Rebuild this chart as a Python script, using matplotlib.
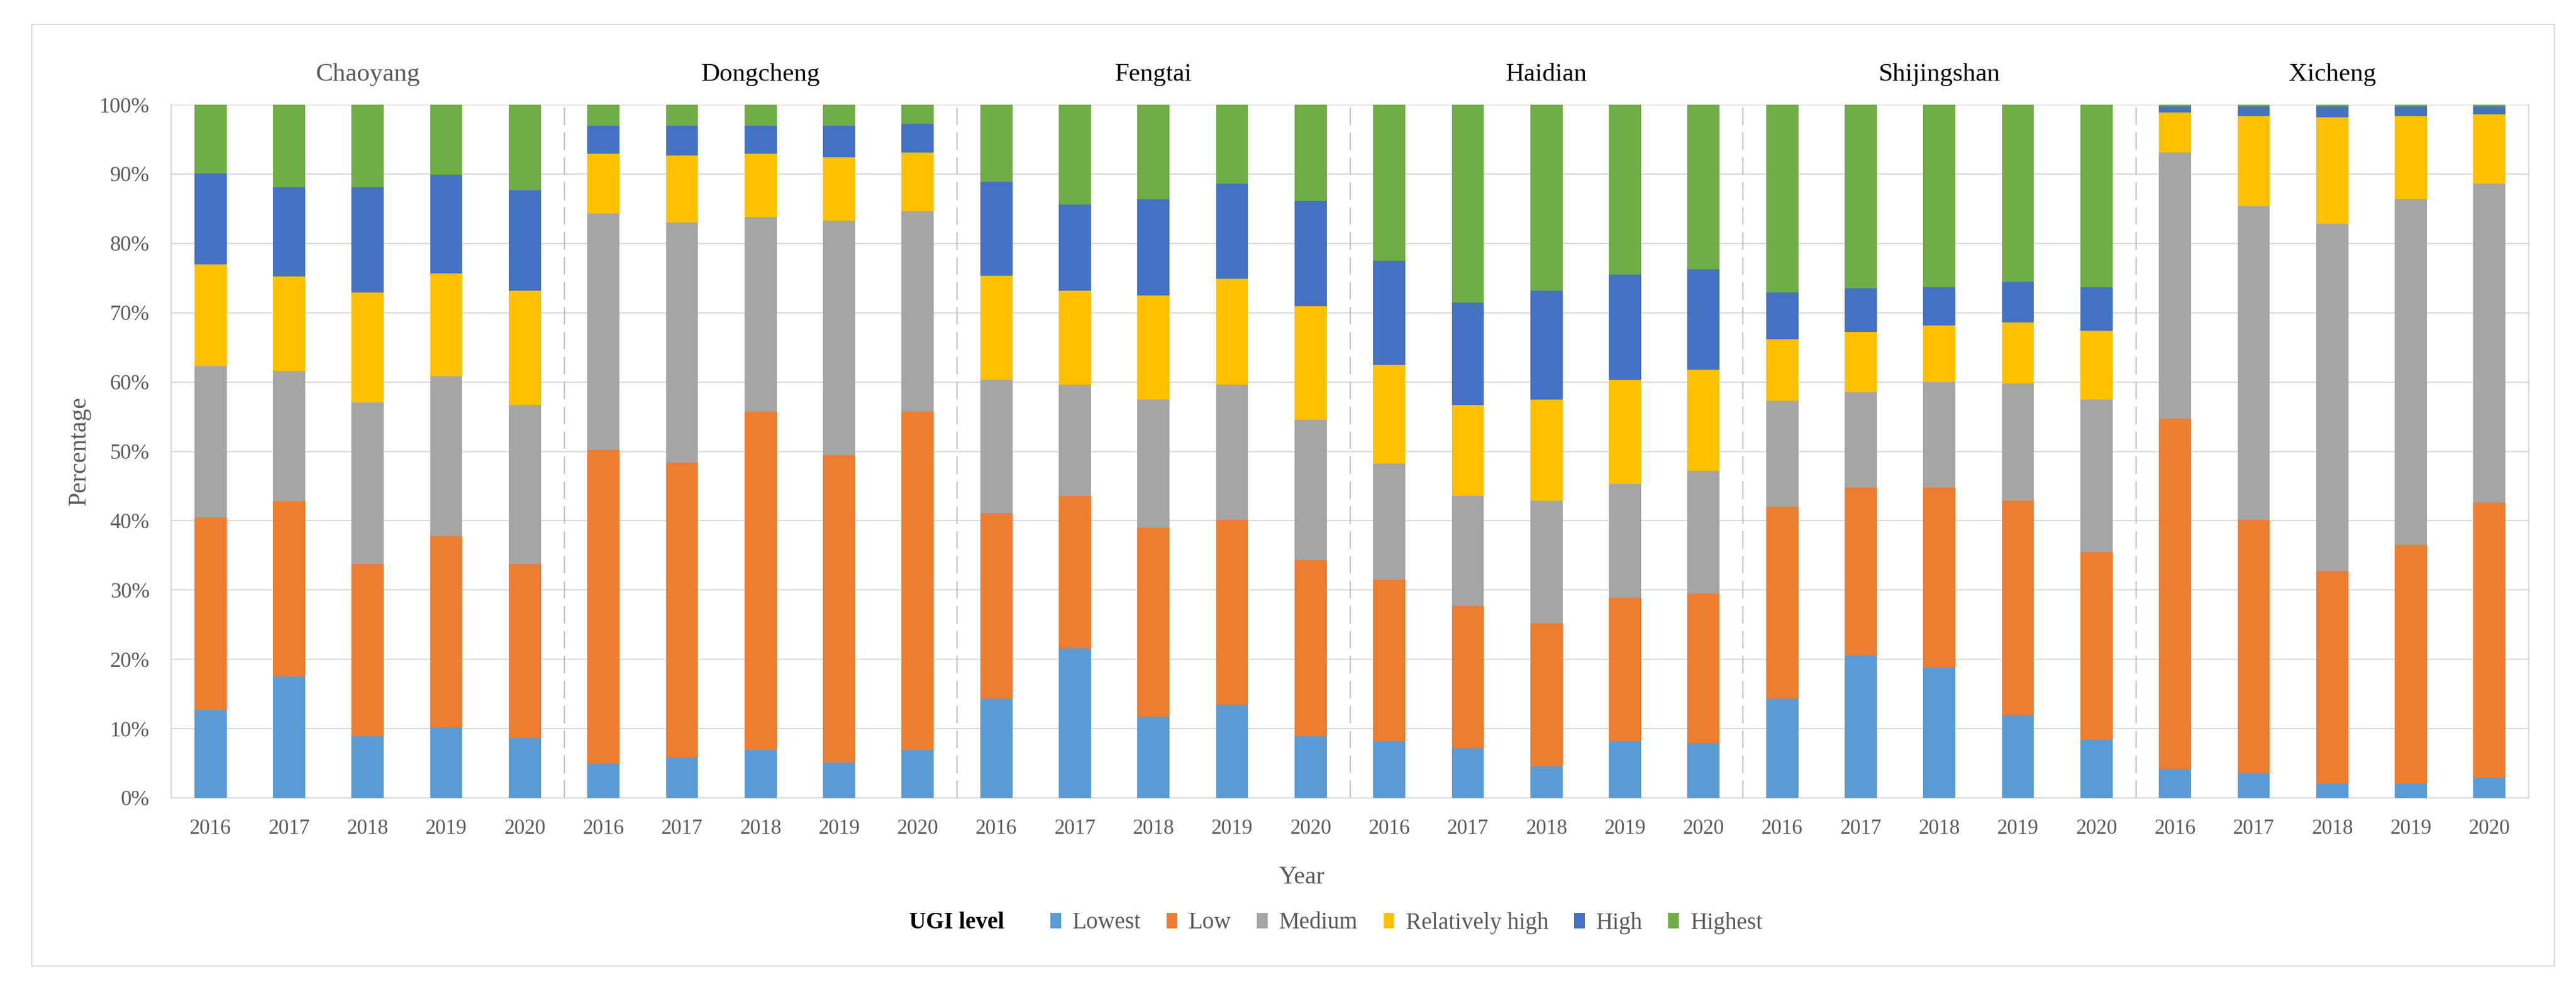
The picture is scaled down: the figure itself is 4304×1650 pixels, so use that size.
import numpy as np
import matplotlib
matplotlib.use("Agg")
import matplotlib.pyplot as plt
from matplotlib.patches import Patch, Rectangle
from matplotlib.transforms import blended_transform_factory

plt.rcParams['font.family'] = ['Liberation Serif', 'DejaVu Serif']

districts = ['Chaoyang', 'Dongcheng', 'Fengtai', 'Haidian', 'Shijingshan', 'Xicheng']
years = ['2016', '2017', '2018', '2019', '2020']
levels = ['Lowest', 'Low', 'Medium', 'Relatively high', 'High', 'Highest']
colors = ['#5B9BD5', '#ED7D31', '#A5A5A5', '#FFC000', '#4472C4', '#70AD47']

# percent shares, district by district, 2016..2020
lowest = [12.7, 17.5, 8.9, 10.2, 8.6,
          4.9, 5.9, 6.9, 5.1, 6.9,
          14.3, 21.6, 11.7, 13.5, 8.9,
          8.2, 7.2, 4.6, 8.2, 7.9,
          14.3, 20.6, 18.8, 12.0, 8.4,
          4.1, 3.6, 2.1, 2.1, 2.9]
low = [27.8, 25.3, 24.8, 27.6, 25.1,
       45.3, 42.5, 48.8, 44.3, 48.8,
       26.8, 22.0, 27.3, 26.6, 25.4,
       23.3, 20.5, 20.6, 20.7, 21.6,
       27.7, 24.2, 26.0, 30.9, 27.1,
       50.6, 36.5, 30.6, 34.4, 39.7]
medium = [21.8, 18.8, 23.3, 23.0, 23.0,
          34.1, 34.6, 28.1, 33.9, 28.9,
          19.2, 16.0, 18.5, 19.5, 20.2,
          16.7, 15.9, 17.7, 16.4, 17.7,
          15.3, 13.7, 15.2, 16.9, 22.0,
          38.4, 45.2, 50.1, 49.9, 46.0]
rel_high = [14.7, 13.6, 15.9, 14.9, 16.5,
            8.6, 9.7, 9.1, 9.1, 8.5,
            15.0, 13.6, 15.0, 15.3, 16.4,
            14.3, 13.1, 14.6, 15.0, 14.6,
            8.9, 8.7, 8.2, 8.8, 9.9,
            5.8, 13.1, 15.4, 12.0, 10.0]
high = [13.1, 12.9, 15.2, 14.2, 14.5,
        4.1, 4.3, 4.1, 4.6, 4.1,
        13.6, 12.4, 13.9, 13.7, 15.2,
        15.0, 14.7, 15.7, 15.2, 14.5,
        6.7, 6.3, 5.5, 5.9, 6.3,
        0.8, 1.3, 1.5, 1.3, 1.1]
highest = [9.9, 11.9, 11.9, 10.1, 12.3,
           3.0, 3.0, 3.0, 3.0, 2.8,
           11.1, 14.4, 13.6, 11.4, 13.9,
           22.5, 28.6, 26.8, 24.5, 23.7,
           27.1, 26.5, 26.3, 25.5, 26.3,
           0.3, 0.3, 0.3, 0.3, 0.3]

series = [lowest, low, medium, rel_high, high, highest]

W, H = 4304, 1650
fig = plt.figure(figsize=(W / 100, H / 100), dpi=100)

# outer chart border
fig.patches.append(Rectangle((53 / W, 1 - 1615 / H), (4268 - 53) / W, (1615 - 41) / H,
                             transform=fig.transFigure, fill=False,
                             edgecolor='#D9D9D9', linewidth=1.5))

ax = fig.add_axes([286 / W, 1 - 1334 / H, (4225 - 286) / W, (1334 - 175) / H])

n = len(districts) * len(years)
x = np.arange(n)
bottom = np.zeros(n)
for vals, col, lab in zip(series, colors, levels):
    ax.bar(x, vals, width=0.41, bottom=bottom, color=col, label=lab, zorder=3)
    bottom += np.array(vals)

ax.set_xlim(-0.5, n - 0.5)
ax.set_ylim(0, 100)
ax.set_yticks(np.arange(0, 101, 10))
ax.set_yticklabels([f'{v}%' for v in range(0, 101, 10)])
ax.set_xticks(x)
ax.set_xticklabels(years * len(districts))
ax.tick_params(axis='x', length=0, pad=25, labelsize=25, labelcolor='#595959')
ax.tick_params(axis='y', length=0, pad=26, labelsize=26, labelcolor='#595959')

ax.grid(axis='y', color='#D9D9D9', linewidth=1.5, zorder=0)
ax.set_axisbelow(True)
for s in ['left', 'right', 'bottom']:
    ax.spines[s].set_color('#D9D9D9')
    ax.spines[s].set_linewidth(1.5)
ax.spines['top'].set_visible(False)

# dashed separators between districts
for k in range(1, len(districts)):
    ax.axvline(k * len(years) - 0.5, color='#BFBFBF', linewidth=1.5,
               linestyle=(0, (14, 6)), zorder=2)

# district titles above each group
trans = blended_transform_factory(ax.transData, fig.transFigure)
title_colors = ['#595959', 'black', 'black', 'black', 'black', 'black']
for k, (d, c) in enumerate(zip(districts, title_colors)):
    ax.text(k * len(years) + 2, 1 - 125 / H, d, transform=trans,
            ha='center', va='center', fontsize=31, color=c)

fig.text(133 / W, 1 - 754 / H, 'Percentage', rotation=90, ha='center', va='center',
         fontsize=30, color='#595959')
fig.text(2175 / W, 1 - 1467 / H, 'Year', ha='center', va='center',
         fontsize=30, color='#595959')

fig.text(1519 / W, 1 - 1543 / H, 'UGI level', ha='left', va='center',
         fontsize=28, fontweight='bold', color='black')
handles = [Patch(facecolor=c, edgecolor='none', label=l) for c, l in zip(colors, levels)]
fig.legend(handles=handles, loc='center left', bbox_to_anchor=(1755 / W, 1 - 1543 / H),
           ncol=6, frameon=False, fontsize=28, handlelength=0.45, handleheight=0.65,
           handletextpad=0.5, columnspacing=1.1, labelcolor='#595959',
           borderaxespad=0, borderpad=0)

fig.savefig('out.png', dpi=100)
